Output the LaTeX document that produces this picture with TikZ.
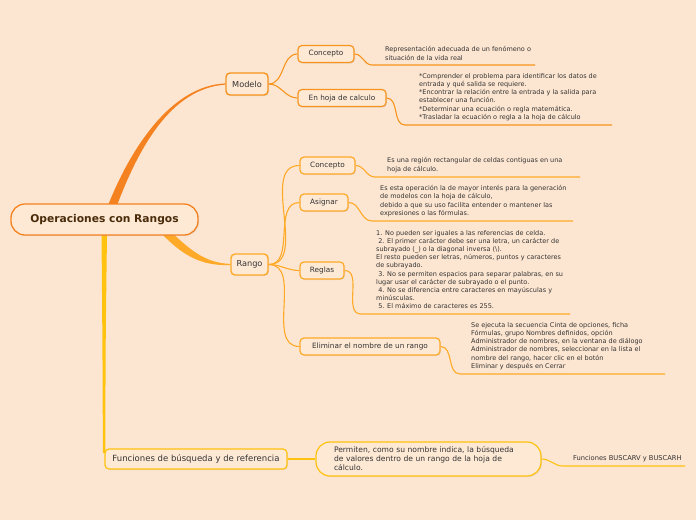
\documentclass[tikz,border=0pt]{standalone}
\usepackage{fontspec}
\setmainfont{DejaVu Sans}
\usetikzlibrary{positioning,shadows,calc}
\definecolor{bgpeach}{HTML}{FDE6D1}
\definecolor{boxfill}{HTML}{FEE9D5}
\definecolor{rootorange}{HTML}{F58220}
\definecolor{modorange}{HTML}{F7941D}
\definecolor{rangoorange}{HTML}{FFA928}
\definecolor{funcyellow}{HTML}{FFC20E}
\definecolor{inktext}{HTML}{333333}
\definecolor{rootink}{HTML}{4A2C0A}
\pgfdeclarelayer{bg}
\pgfdeclarelayer{paper}
\pgfsetlayers{paper,bg,main}

\begin{document}
\begin{tikzpicture}[
      x=1pt, y=-1pt,
      every node/.style={text=inktext, inner sep=0pt},
      topic/.style={draw, rounded corners=4pt, fill=boxfill, line width=1.2pt,
                    minimum height=17pt, font=\fontsize{7.3}{8}\selectfont,
                    drop shadow={opacity=0.18, shadow xshift=1pt, shadow yshift=-1pt}},
      main/.style={topic, line width=1.4pt, minimum height=21pt,
                   font=\fontsize{8.2}{9}\selectfont},
      note/.style={anchor=west, align=left, font=\fontsize{6.5}{8.2}\selectfont},
      link/.style={line width=1.1pt},
  ]
    \useasboundingbox (0,0) rectangle (696,520);
    \begin{pgfonlayer}{paper}
      \fill[bgpeach] (0,0) rectangle (696,520);
    \end{pgfonlayer}

    %% --- Central topic ---
    \node[topic, draw=rootorange, rounded corners=14pt, line width=1.3pt,
          minimum width=187pt, minimum height=31pt,
          font=\fontsize{10.7}{12}\selectfont\bfseries, text=rootink]
      (root) at (104.5,219.5) {Operaciones con Rangos};

    %% --- Main topics ---
    \node[main, draw=modorange, minimum width=42pt, minimum height=22pt] (modelo) at (247,84) {Modelo};
    \node[main, draw=rangoorange, minimum width=37pt] (rango) at (249.5,264.5) {Rango};
    \node[topic, draw=funcyellow, minimum width=182pt, minimum height=20pt,
          font=\fontsize{8.5}{9}\selectfont] (func) at (196,459) {Funciones de búsqueda y de referencia};

    %% --- Subtopics of Modelo ---
    \node[topic, draw=modorange, minimum width=56pt] (mconc) at (326,54) {Concepto};
    \node[topic, draw=modorange, minimum width=88pt] (mhoja) at (342,98) {En hoja de calculo};

    %% --- Subtopics of Rango ---
    \node[topic, draw=rangoorange, minimum width=55pt] (rconc) at (327.5,165.5) {Concepto};
    \node[topic, draw=rangoorange, minimum width=48pt] (rasig) at (324,202.5) {Asignar};
    \node[topic, draw=rangoorange, minimum width=44pt] (rreg) at (322,270.5) {Reglas};
    \node[topic, draw=rangoorange, minimum width=140pt] (relim) at (370,346.5) {Eliminar el nombre de un rango};

    %% --- Subtopic of Funciones ---
    \node[topic, draw=funcyellow, rounded corners=14pt, minimum width=225pt, minimum height=34pt,
          text width=189pt, inner xsep=18pt, align=left, font=\fontsize{7.6}{9}\selectfont]
      (perm) at (428.5,459) {Permiten, como su nombre indica, la búsqueda\\
      de valores dentro de un rango de la hoja de\\cálculo.};

    %% --- Notes ---
    \node[note] (tmconc) at (385,53.5) {Representación adecuada de un fenómeno o\\
      situación de la vida real};
    \node[note] (tmhoja) at (419,97) {*Comprender el problema para identificar los datos de\\
      entrada y qué salida se requiere.\\
      *Encontrar la relación entre la entrada y la salida para\\
      establecer una función.\\
      *Determinar una ecuación o regla matemática.\\
      *Trasladar la ecuación o regla a la hoja de cálculo};
    \node[note] (trconc) at (387,165) {Es una región rectangular de celdas contiguas en una\\
      hoja de cálculo.};
    \node[note] (trasig) at (380,201) {Es esta operación la de mayor interés para la generación\\
      de modelos con la hoja de cálculo,\\
      debido a que su uso facilita entender o mantener las\\
      expresiones o las fórmulas.};
    \node[note] (trreg) at (376,269.5) {1. No pueden ser iguales a las referencias de celda.\\
      \ 2. El primer carácter debe ser una letra, un carácter de\\
      subrayado (\_) o la diagonal inversa (\textbackslash).\\
      El resto pueden ser letras, números, puntos y caracteres\\
      de subrayado.\\
      \ 3. No se permiten espacios para separar palabras, en su\\
      lugar usar el carácter de subrayado o el punto.\\
      \ 4. No se diferencia entre caracteres en mayúsculas y\\
      minúsculas.\\
      \ 5. El máximo de caracteres es 255.};
    \node[note] (trelim) at (471,346) {Se ejecuta la secuencia Cinta de opciones, ficha\\
      Fórmulas, grupo Nombres definidos, opción\\
      Administrador de nombres, en la ventana de diálogo\\
      Administrador de nombres, seleccionar en la lista el\\
      nombre del rango, hacer clic en el botón\\
      Eliminar y después en Cerrar};
    \node[note, font=\fontsize{6.7}{8}\selectfont] (tbus) at (573,459) {Funciones BUSCARV y BUSCARH};

    %% --- Underline ends ---
    \coordinate (u1a) at (372,65);  \coordinate (u1b) at (535,65);
    \coordinate (u2a) at (405,125); \coordinate (u2b) at (612,125);
    \coordinate (u3a) at (375,177); \coordinate (u3b) at (580,177);
    \coordinate (u4a) at (372,221); \coordinate (u4b) at (573,221);
    \coordinate (u5a) at (361,314); \coordinate (u5b) at (570,314);
    \coordinate (u6a) at (460,374); \coordinate (u6b) at (665,374);
    \coordinate (u7a) at (563,466); \coordinate (u7b) at (685,466);

    \begin{pgfonlayer}{bg}
      %% --- Tapered branches from the central topic ---
      \fill[rootorange] ($(root.north)+(3.5,2)$) .. controls (130,150) and (170,86) .. ($(modelo.west)+(0,-0.6)$)
        -- ($(modelo.west)+(0,0.6)$) .. controls (170,88.5) and (138,150) .. ($(root.north)+(12.5,2)$) -- cycle;
      \fill[rangoorange] ($(root.center)+(63.5,9.5)$) .. controls (190,250) and (205,263) .. ($(rango.west)+(0,-0.6)$)
        -- ($(rango.west)+(0,0.6)$) .. controls (200,266) and (182,255) .. ($(root.center)+(55.5,12.5)$) -- cycle;
      \fill[funcyellow] ($(root.south)+(-3,-2)$) -- ($(root.south)+(2.5,-2)$)
        .. controls (105.5,350) .. ($(func.west)+(1,-6)$)
        -- ($(func.west)+(-1.5,-6)$) .. controls (102.5,350) .. ($(root.south)+(-3,-2)$) -- cycle;

      %% --- Branch connectors ---
      \draw[link, modorange] (modelo.east) to[out=0, in=180] (mconc.west);
      \draw[link, modorange] (modelo.east) to[out=0, in=180] (mhoja.west);
      \draw[link, rangoorange] (rango.east) to[out=0, in=180] (rconc.west);
      \draw[link, rangoorange] (rango.east) to[out=0, in=180] (rasig.west);
      \draw[link, rangoorange] (rango.east) to[out=0, in=180] (rreg.west);
      \draw[link, rangoorange] (rango.east) to[out=0, in=180] (relim.west);
      \draw[link, funcyellow] (func.east) -- (perm.west);

      %% --- Note connectors and underlines ---
      \draw[link, modorange] (mconc.east) to[out=0, in=180] (u1a) -- (u1b);
      \draw[link, modorange] (mhoja.east) to[out=0, in=180] (u2a) -- (u2b);
      \draw[link, rangoorange] (rconc.east) to[out=0, in=180] (u3a) -- (u3b);
      \draw[link, rangoorange] (rasig.east) to[out=0, in=180] (u4a) -- (u4b);
      \draw[link, rangoorange] (rreg.east) to[out=0, in=180] (u5a) -- (u5b);
      \draw[link, rangoorange] (relim.east) to[out=0, in=180] (u6a) -- (u6b);
      \draw[link, funcyellow] (perm.east) to[out=0, in=180] (u7a) -- (u7b);
    \end{pgfonlayer}
  \end{tikzpicture}
\end{document}
